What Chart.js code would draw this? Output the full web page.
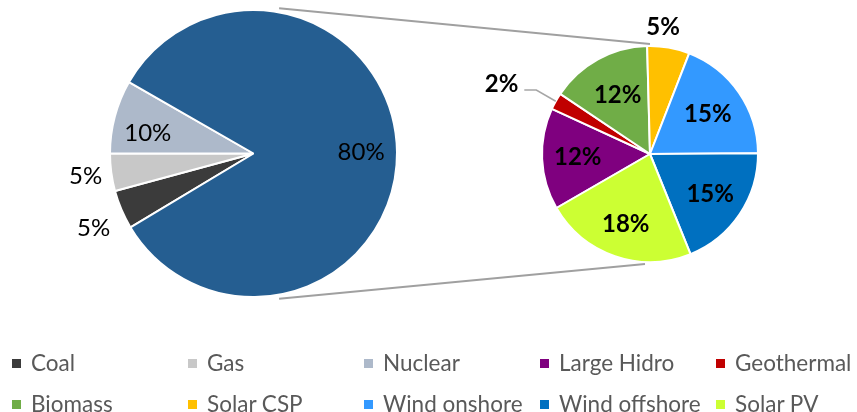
<!DOCTYPE html>
<html>
<head>
<meta charset="utf-8">
<script src="https://cdn.jsdelivr.net/npm/chart.js@4"></script>
<style>
html, body { margin: 0; padding: 0; background: #fff; width: 857px; height: 412px; overflow: hidden; }
#wrap { position: relative; width: 857px; height: 412px; font-family: Lato, "Open Sans", sans-serif; }
canvas { position: absolute; top: 0; }
#lines { left: 0; }
#big { left: 0; }
#small { left: 460px; }
.lg { position: absolute; font-size: 22.5px; line-height: 22px; color: #595959; white-space: nowrap; }
.lg i { position: absolute; left: -19px; top: 7px; width: 9px; height: 9px; }
</style>
</head>
<body>
<div id="wrap">
  <canvas id="lines" width="857" height="412"></canvas>
  <canvas id="big" width="507" height="307"></canvas>
  <canvas id="small" width="380" height="308"></canvas>
  <div id="legend"></div>
</div>
<script>
// Hauptkreis: Anteile laut Bild
const mainLabels = ['Coal', 'Gas', 'Nuclear', 'Renewables'];
const mainValues = [4.4, 4.2, 8.3, 83.1];
const mainText = ['5%', '5%', '10%', '80%'];
const mainColors = ['#3b3b3b', '#c8c8c8', '#adb9ca', '#255e91'];

// Zweiter Kreis: Aufteilung der Erneuerbaren
const subLabels = ['Large Hidro', 'Geothermal', 'Biomass', 'Solar CSP', 'Wind onshore', 'Wind offshore', 'Solar PV'];
const subValues = [12, 2, 12, 5, 15, 15, 18];
const subText = ['12%', '2%', '12%', '5%', '15%', '15%', '18%'];
const subColors = ['#7f007f', '#c00000', '#70ad47', '#ffc000', '#3399ff', '#0070c0', '#ccff33'];

// Legendenreihenfolge
const legendItems = ['Coal', 'Gas', 'Nuclear', 'Large Hidro', 'Geothermal',
                     'Biomass', 'Solar CSP', 'Wind onshore', 'Wind offshore', 'Solar PV'];

// Beschriftungen der Segmente
const sliceLabels = {
    id: 'sliceLabels',
    afterDatasetsDraw(chart, args, opts) {
        const ctx = chart.ctx;
        const arcs = chart.getDatasetMeta(0).data;
        ctx.save();
        ctx.font = opts.font;
        ctx.fillStyle = '#000';
        ctx.textAlign = 'center';
        ctx.textBaseline = 'middle';
        arcs.forEach((arc, i) => {
            const p = arc.getProps(['x', 'y', 'startAngle', 'endAngle', 'outerRadius'], true);
            const midRaw = (p.startAngle + p.endAngle) / 2;
            const mid = midRaw + (opts.shift[i] || 0) * Math.PI / 180;
            const r = p.outerRadius * opts.radius[i];
            const lx = p.x + Math.cos(mid) * r;
            const ly = p.y + Math.sin(mid) * r;
            ctx.fillText(opts.text[i], lx, ly);
            if (opts.leader && opts.leader[i]) {
                const w = ctx.measureText(opts.text[i]).width;
                const sx = lx + w / 2 + 6, sy = ly + 6;
                ctx.beginPath();
                ctx.strokeStyle = '#a6a6a6';
                ctx.lineWidth = 1.5;
                ctx.moveTo(sx, sy);
                ctx.lineTo(sx + 12, sy);
                ctx.lineTo(p.x + Math.cos(midRaw) * p.outerRadius, p.y + Math.sin(midRaw) * p.outerRadius);
                ctx.stroke();
            }
        });
        ctx.restore();
    }
};

function pieOptions(rotation, radius, labelOpts) {
    return {
        responsive: false,
        animation: false,
        events: [],
        rotation: rotation,
        radius: radius,
        layout: { padding: 0 },
        plugins: {
            legend: { display: false },
            tooltip: { enabled: false },
            sliceLabels: labelOpts
        }
    };
}

const bigChart = new Chart(document.getElementById('big'), {
    type: 'pie',
    data: {
        labels: mainLabels,
        datasets: [{ data: mainValues, backgroundColor: mainColors, borderColor: '#fff', borderWidth: 2, hoverOffset: 0 }]
    },
    options: pieOptions(239, 143.5, {
        text: mainText,
        font: '24px Lato',
        radius: [1.23, 1.18, 0.75, 0.75],
        shift: [-2, 0, -4, 0]
    }),
    plugins: [sliceLabels]
});

const smallChart = new Chart(document.getElementById('small'), {
    type: 'pie',
    data: {
        labels: subLabels,
        datasets: [{ data: subValues, backgroundColor: subColors, borderColor: '#fff', borderWidth: 2, hoverOffset: 0 }]
    },
    options: pieOptions(-120, 108, {
        text: subText,
        font: 'bold 24px Lato',
        radius: [0.67, 1.52, 0.62, 1.18, 0.65, 0.67, 0.69],
        shift: [0, -4, 0, -4, 0, 0, 0],
        leader: [false, true, false, false, false, false, false]
    }),
    plugins: [sliceLabels]
});

// Verbindungslinien zwischen beiden Kreisen
function drawConnectors() {
    const ctx = document.getElementById('lines').getContext('2d');
    const a = bigChart.getDatasetMeta(0).data[0];
    const b = smallChart.getDatasetMeta(0).data[0];
    const bx = a.x, by = a.y, bR = a.outerRadius + 4;
    const sx = b.x + 460, sy = b.y, sR = b.outerRadius + 2;
    const ang = 80 * Math.PI / 180;
    ctx.strokeStyle = '#a0a0a0';
    ctx.lineWidth = 1.8;
    ctx.beginPath();
    ctx.moveTo(bx + Math.cos(ang) * bR, by - Math.sin(ang) * bR);
    ctx.lineTo(sx, sy - sR);
    ctx.moveTo(bx + Math.cos(ang) * bR, by + Math.sin(ang) * bR);
    ctx.lineTo(sx - 5, sy + sR);
    ctx.stroke();
}
drawConnectors();

// Legende unten
const colorOf = {};
mainLabels.forEach((l, i) => colorOf[l] = mainColors[i]);
subLabels.forEach((l, i) => colorOf[l] = subColors[i]);
const legend = document.getElementById('legend');
legendItems.forEach((name, i) => {
    const col = i % 5, row = Math.floor(i / 5);
    const d = document.createElement('div');
    d.className = 'lg';
    d.style.left = (31 + col * 176) + 'px';
    d.style.top = (352 + row * 41) + 'px';
    d.innerHTML = '<i style="background:' + colorOf[name] + '"></i>' + name;
    legend.appendChild(d);
});
</script>
</body>
</html>
